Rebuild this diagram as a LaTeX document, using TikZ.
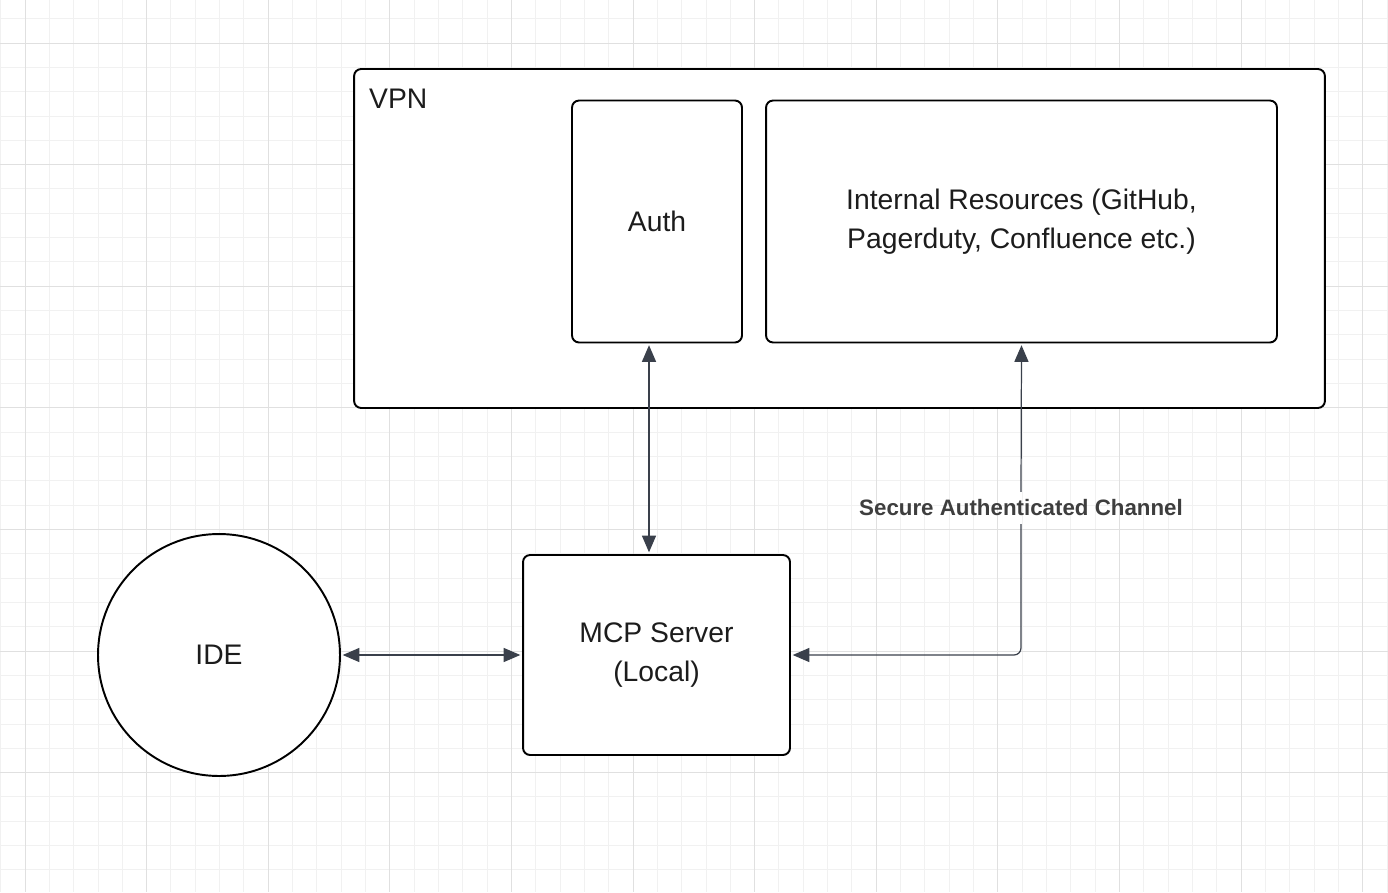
\documentclass[tikz,border=0pt]{standalone}
\usepackage{fontspec}
\setmainfont{Liberation Sans}
\usetikzlibrary{arrows.meta, positioning}
\definecolor{gridminor}{RGB}{241,241,241}
\definecolor{gridmajor}{RGB}{224,224,224}
\definecolor{linkgray}{RGB}{58,64,75}
\definecolor{labelgray}{RGB}{62,62,62}
\definecolor{textblack}{RGB}{28,28,28}

\begin{document}
\begin{tikzpicture}[x=0.02cm, y=-0.02cm,
  >={Triangle[length=9.5pt,width=8pt]},
  box/.style={draw=black, line width=1.1pt, rounded corners=4pt, fill=white,
              align=center, text=textblack, font=\fontsize{16.1}{22}\selectfont},
  link/.style={draw=linkgray, line width=0.7pt, shorten >=1pt, shorten <=1pt}]
  \useasboundingbox (0,0) rectangle (1388,892);

  % background grid
  \foreach \k in {0,...,57}
    \draw[gridminor, line width=0.5pt] (0.68+\k*24.32,0) -- (0.68+\k*24.32,892);
  \foreach \k in {0,...,35}
    \draw[gridminor, line width=0.5pt] (0,18.68+\k*24.32) -- (1388,18.68+\k*24.32);
  \foreach \k in {0,...,11}
    \draw[gridmajor, line width=0.5pt] (25+\k*121.6,0) -- (25+\k*121.6,892);
  \foreach \k in {0,...,6}
    \draw[gridmajor, line width=0.5pt] (0,43+\k*121.6) -- (1388,43+\k*121.6);

  % VPN
  \node[box, minimum width=19.42cm, minimum height=6.78cm] (vpn) at (839.5,238.5) {};
  \node[anchor=base west, text=textblack, font=\fontsize{16.1}{22}\selectfont] (vpntitle) at (363,109) {VPN};
  \node[box, minimum width=3.4cm, minimum height=4.84cm] (auth) at (657,221.5) {Auth};
  \node[box, minimum width=10.22cm, minimum height=4.84cm] (res) at (1021.5,221.5)
    {Internal Resources (GitHub,\\Pagerduty, Confluence etc.)};

  % local side
  \node[box, minimum width=5.34cm, minimum height=4cm] (mcp) at (656.5,655) {MCP Server\\(Local)};
  \node[box, circle, minimum size=4.84cm] (ide) at (219,655) {IDE};

  % connectors
  \coordinate (authlink) at (649,0);
  \draw[link, <->] (auth.south -| authlink) -- (mcp.north -| authlink);
  \draw[link, <->] (ide) -- (mcp);
  \node[text=labelgray, font=\bfseries\fontsize{12.7}{15}\selectfont] (chan) at (1021,508) {Secure Authenticated Channel};
  \draw[link, ->] (chan.north) -- (res.south);
  \draw[link, ->, rounded corners=4pt] (chan.south) |- (mcp.east);
\end{tikzpicture}
\end{document}
